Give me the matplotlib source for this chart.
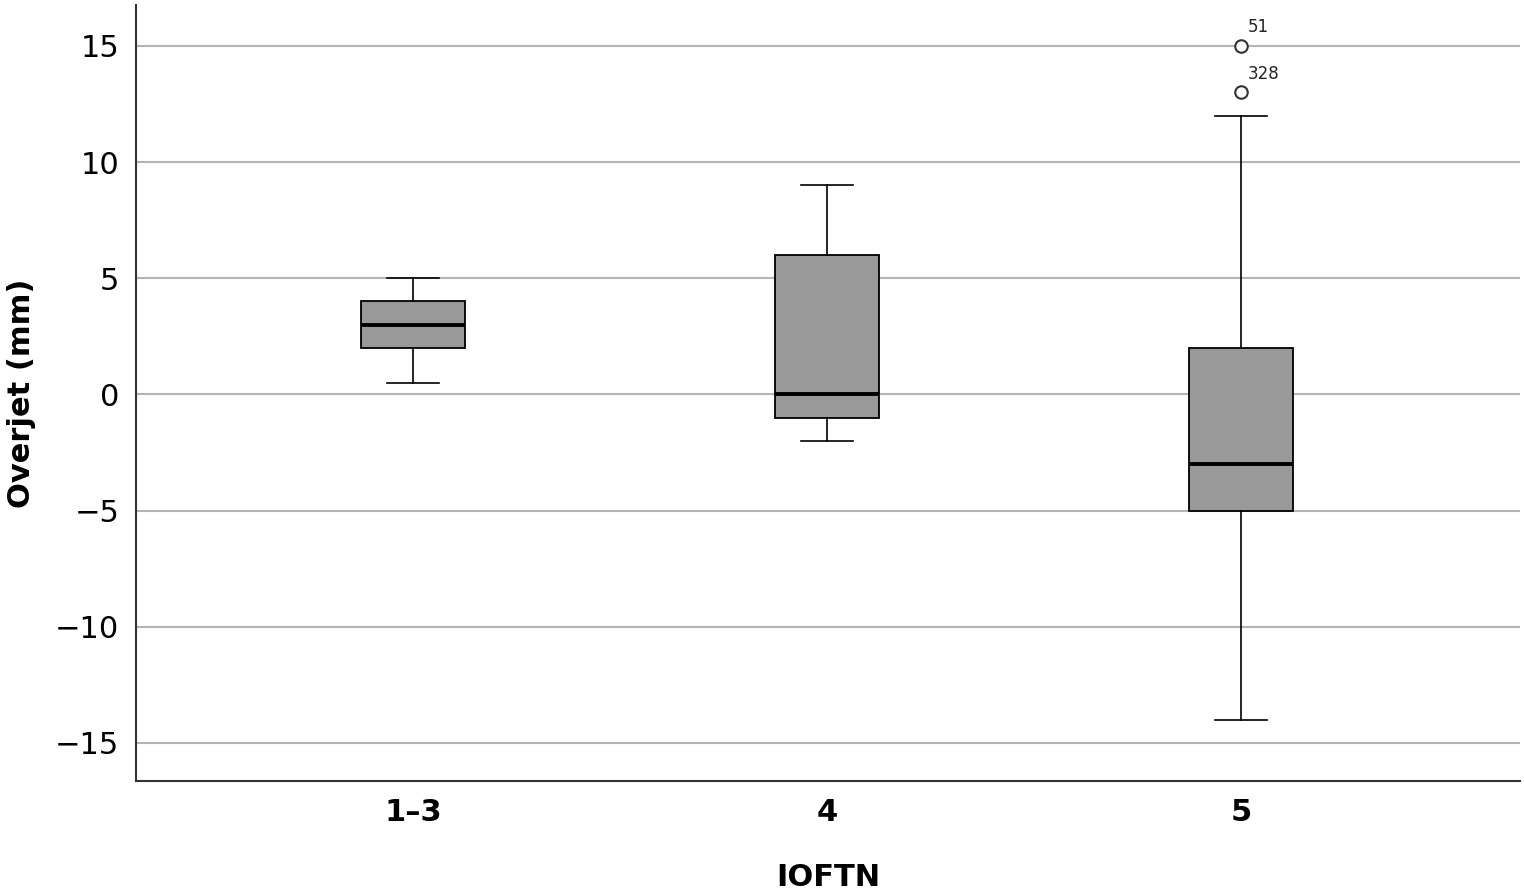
import matplotlib
matplotlib.use("Agg")
import matplotlib.pyplot as plt

categories = ["1\u20133", "4", "5"]
whislo = [0.5, -2, -14]
q1 = [2, -1, -5]
med = [3, 0, -3]
q3 = [4, 6, 2]
whishi = [5, 9, 12]
outliers = [[], [], [15, 13]]
outlier_ids = [[], [], ["51", "328"]]
yticks = [-15, -10, -5, 0, 5, 10, 15]

plt.rcParams['font.family'] = ['DejaVu Sans']
fig = plt.figure(figsize=(15.24, 8.93), dpi=100)
ax = fig.add_axes([0.0892, 0.1254, 0.9082, 0.869])

stats = []
for i in range(len(categories)):
    stats.append(dict(med=med[i], q1=q1[i], q3=q3[i], whislo=whislo[i],
                      whishi=whishi[i], fliers=outliers[i], label=categories[i]))

ax.bxp(stats, positions=range(len(categories)), widths=0.25, patch_artist=True,
       boxprops=dict(facecolor="#999999", edgecolor="black", linewidth=1.3),
       medianprops=dict(color="black", linewidth=2.8),
       whiskerprops=dict(color="black", linewidth=1.2),
       capprops=dict(color="black", linewidth=1.2),
       capwidths=0.125,
       flierprops=dict(marker="o", markersize=9, markerfacecolor="white",
                       markeredgecolor="#333333", markeredgewidth=1.5),
       zorder=3)

for i in range(len(categories)):
    for v, lab in zip(outliers[i], outlier_ids[i]):
        ax.annotate(lab, (i, v), xytext=(5, 7), textcoords="offset points",
                    fontsize=12, color="#222222", ha="left", va="bottom")

ax.set_xlim(-0.669, 2.674)
ax.set_ylim(-16.64, 16.76)
ax.set_yticks(yticks)
ax.set_yticklabels([str(t).replace("-", "\u2212") for t in yticks], fontsize=22)
ax.set_xticks(range(len(categories)))
ax.set_xticklabels(categories, fontsize=22, fontweight="bold")
ax.tick_params(axis="both", length=0, pad=12)
ax.yaxis.grid(True, color="#b4b4b4", linewidth=1.5, zorder=0)
ax.set_axisbelow(True)
for s in ["top", "right"]:
    ax.spines[s].set_visible(False)
for s in ["left", "bottom"]:
    ax.spines[s].set_linewidth(1.5)
    ax.spines[s].set_color("#333333")

ax.set_ylabel("Overjet (mm)", fontsize=22, fontweight="bold", labelpad=14)
ax.set_xlabel("IOFTN", fontsize=22, fontweight="bold", labelpad=26)

fig.savefig("out.png", dpi=100)
